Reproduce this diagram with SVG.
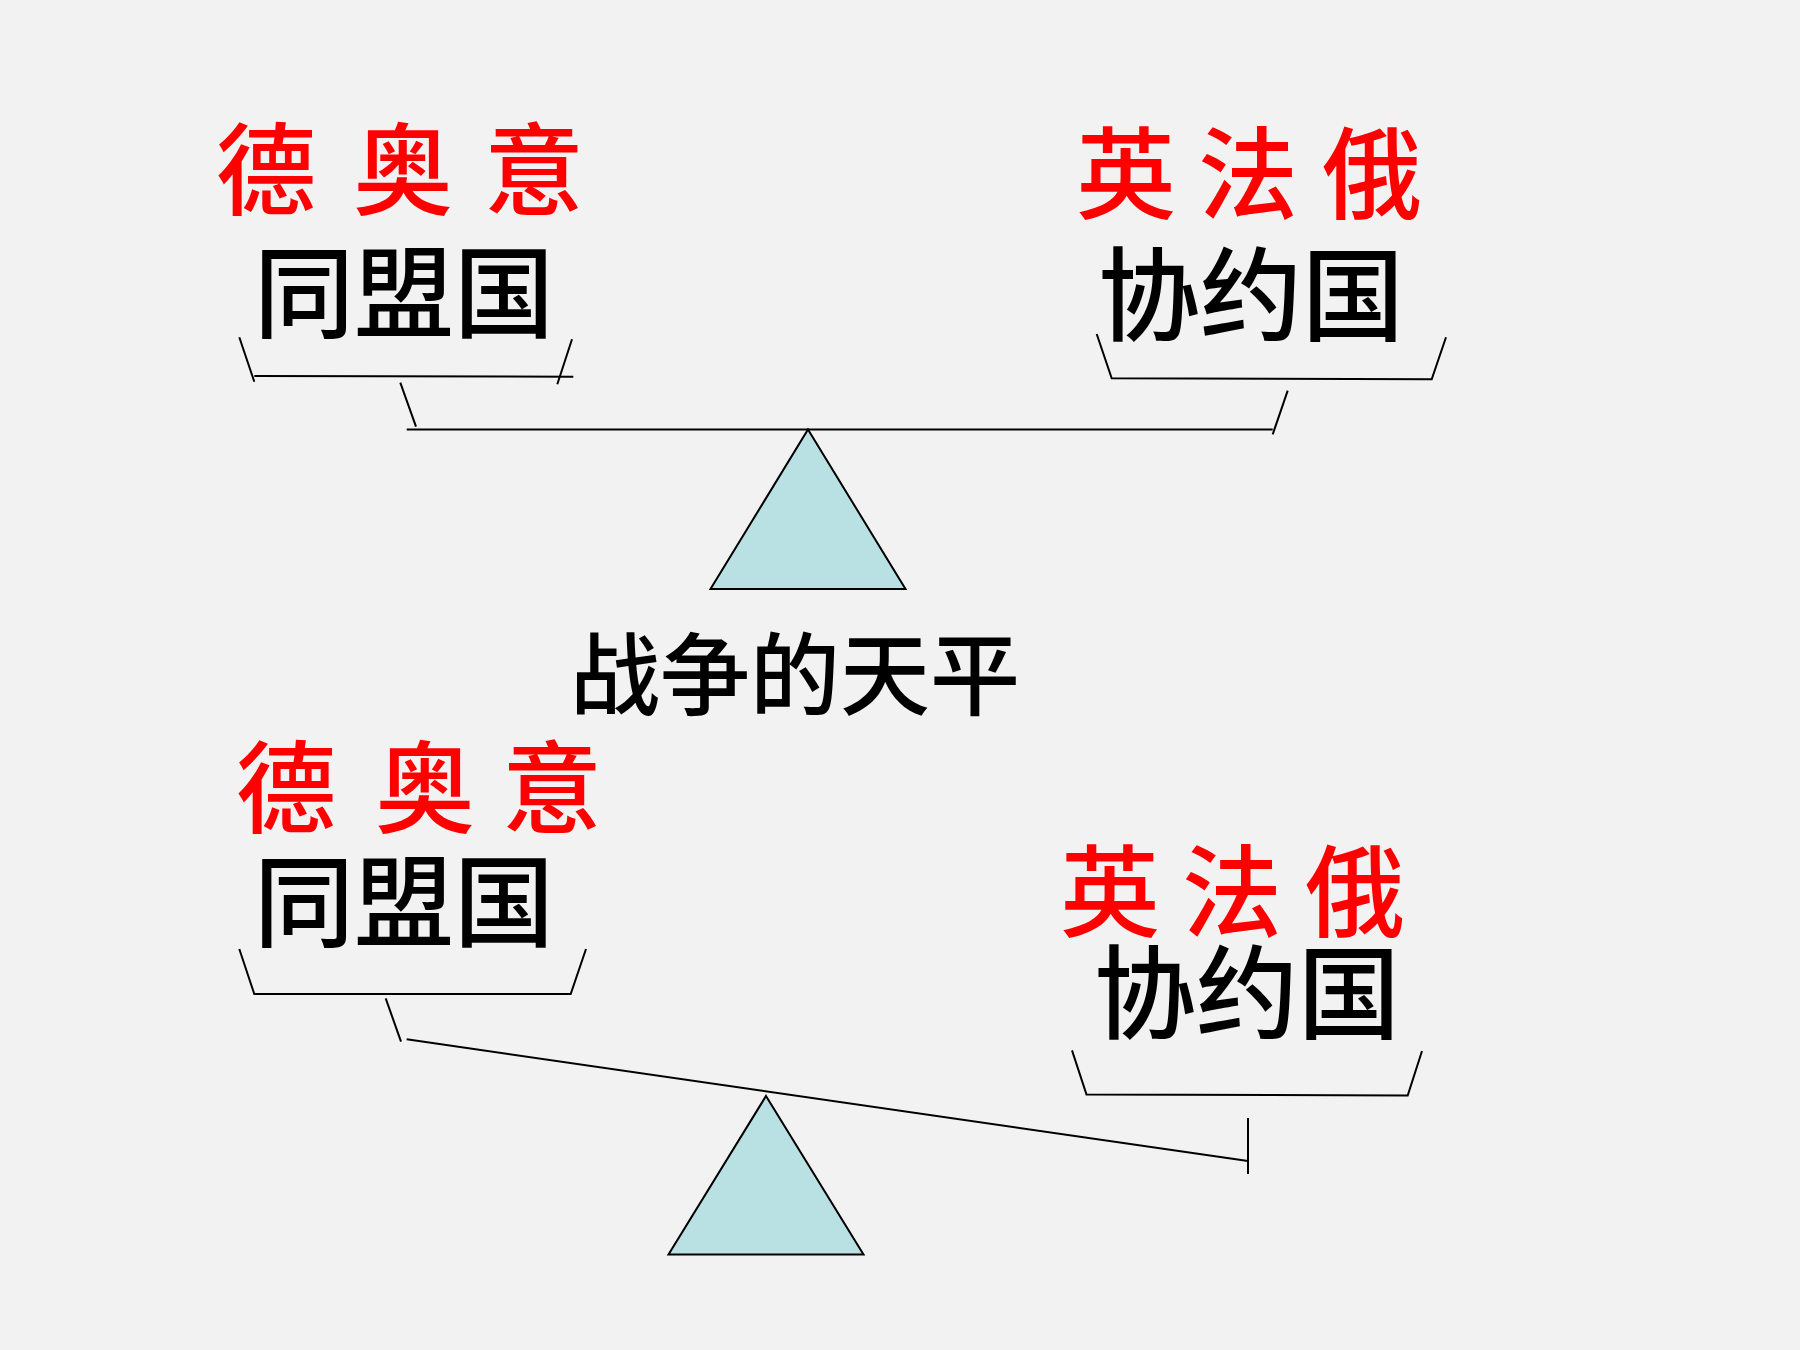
<svg xmlns="http://www.w3.org/2000/svg" width="1800" height="1350" viewBox="0 0 1800 1350">
<style>
.red{font-family:"Noto Sans CJK SC","Noto Sans CJK JP",sans-serif;font-weight:500;font-size:100px;fill:#ff0000}
.blk{font-family:"Noto Sans CJK SC","Noto Sans CJK JP",sans-serif;font-weight:500;font-size:100px;fill:#000}
.ln{stroke:#000;stroke-width:2;fill:none}
.tri{fill:#b9e0e3;stroke:#000;stroke-width:2}
</style>
<rect x="0" y="0" width="1800" height="1350" fill="#f2f2f2"/>
<g id="top-central-powers">
<text class="red" x="216 316 353 453 484" y="207">德 奥 意</text>
<text class="blk" x="254" y="330">同盟国</text>
</g>
<g id="top-entente">
<text class="red" x="1076 1176 1198 1298 1322" y="211">英 法 俄</text>
<text class="blk" x="1098" y="333" style="font-size:102px">协约国</text>
</g>
<g id="top-fulcrum">
<polygon class="tri" points="808,429.5 905.5,589 710.5,589"/>
</g>
<g id="title">
<text class="blk" x="570" y="708" style="font-size:90px">战争的天平</text>
</g>
<g id="bottom-central-powers">
<text class="red" x="236 336 375 475 502" y="825">德 奥 意</text>
<text class="blk" x="254" y="939">同盟国</text>
</g>
<g id="bottom-entente">
<text class="red" x="1060 1160 1182 1282 1305" y="929">英 法 俄</text>
<text class="blk" x="1094" y="1031" style="font-size:102px">协约国</text>
</g>
<g id="bottom-fulcrum">
<polygon class="tri" points="766,1096 863.5,1254.5 668.5,1254.5"/>
</g>
<g id="connectors">
<polyline class="ln" points="239.3,337.3 254.3,381.7"/>
<line class="ln" x1="254.3" y1="376" x2="573.3" y2="376.7"/>
<line class="ln" x1="572" y1="339.3" x2="557.3" y2="384.3"/>
<line class="ln" x1="400.3" y1="382.7" x2="416" y2="426.7"/>
<line class="ln" x1="406.7" y1="429.5" x2="1272.7" y2="429.5"/>
<line class="ln" x1="1272.7" y1="434.3" x2="1287.7" y2="390.7"/>
<polyline class="ln" points="1096.7,334 1111.7,378.3 1431.7,379.3 1446,337.3"/>
<polyline class="ln" points="239.3,949 254.3,994 570.7,994 586,949"/>
<line class="ln" x1="385.7" y1="998.3" x2="401" y2="1041.7"/>
<line class="ln" x1="406.7" y1="1039.3" x2="1248" y2="1161"/>
<line class="ln" x1="1248" y1="1118" x2="1248" y2="1174"/>
<polyline class="ln" points="1072,1050.4 1086.5,1094.6 1407.7,1095.5 1422,1051"/>
</g>
</svg>
